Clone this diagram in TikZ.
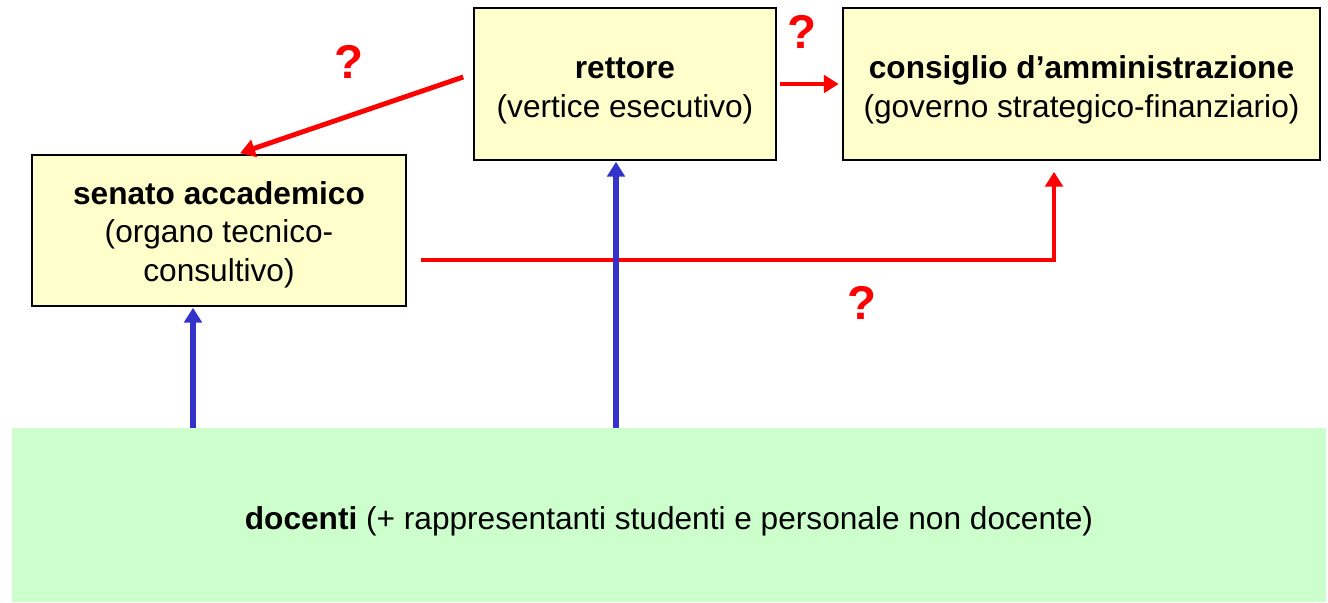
\documentclass[tikz,border=0pt]{standalone}
\usepackage{fontspec}
\setmainfont{Liberation Sans}
\usepackage{tikz}
\usetikzlibrary{arrows.meta,calc}
\definecolor{boxyellow}{HTML}{FFFFCC}
\definecolor{boxgreen}{HTML}{CCFFCC}
\definecolor{arrblue}{HTML}{3333CC}
\tikzstyle{organ}=[draw=black,line width=0.9pt,fill=boxyellow,align=center,inner sep=0pt,font=\fontsize{18}{22}\selectfont]
\tikzstyle{base}=[fill=boxgreen,inner sep=0pt,font=\fontsize{18}{22}\selectfont]
\tikzstyle{redarr}=[draw=red,line width=2.8pt,-{Triangle[width=10pt,length=8.5pt]}]
\tikzstyle{bluearr}=[draw=arrblue,line width=3.2pt,-{Triangle[width=10pt,length=8.5pt]}]
\tikzstyle{qmark}=[text=red,font=\fontsize{27}{30}\selectfont\bfseries]

\begin{document}
\begin{tikzpicture}[x=0.02cm,y=-0.02cm]
  \useasboundingbox (0,0) rectangle (1328,602);

  \node[organ,minimum width=302*0.02cm,minimum height=152*0.02cm] (rett) at (625,84)
    {\rule{0pt}{19.8pt}\textbf{rettore}\\(vertice esecutivo)};
  \node[organ,minimum width=477*0.02cm,minimum height=152*0.02cm] (cda) at (1081.5,84)
    {\rule{0pt}{19.8pt}\textbf{consiglio d’amministrazione}\\(governo strategico-finanziario)};
  \node[organ,minimum width=374*0.02cm,minimum height=151*0.02cm] (sen) at (219,230.5)
    {\rule{0pt}{17.6pt}\textbf{senato accademico}\\(organo tecnico-\\consultivo)};
  \node[base,minimum width=1314*0.02cm,minimum height=174*0.02cm,text height=18pt,text depth=1pt] (doc) at (669,515)
    {\textbf{docenti} (+ rappresentanti studenti e personale non docente)};

  % red links between the organs
  \coordinate (r1) at ($(rett.west)+(-10,-7)$);
  \coordinate (s1) at ($(sen.north)+(21,-1)$);
  \draw[redarr] (r1) -- (s1);
  \draw[redarr,shorten <=2pt,shorten >=2pt] (rett.east) -- (cda.west);
  \coordinate (s2) at ($(sen.east)+(14,29.5)$);
  \coordinate (c1) at ($(cda.south)+(-27.5,11)$);
  \draw[redarr] (s2) -| (c1);

  % blue links from the base
  \coordinate (s3) at ($(sen.south)+(-26,1)$);
  \coordinate (r2) at ($(rett.south)+(-9,1)$);
  \draw[bluearr] (s3 |- doc.north) -- (s3);
  \draw[bluearr] (r2 |- doc.north) -- (r2);

  \foreach \p in {(349,62),(802,32),(862,303)}
    \node[qmark] at \p {?};
\end{tikzpicture}
\end{document}
